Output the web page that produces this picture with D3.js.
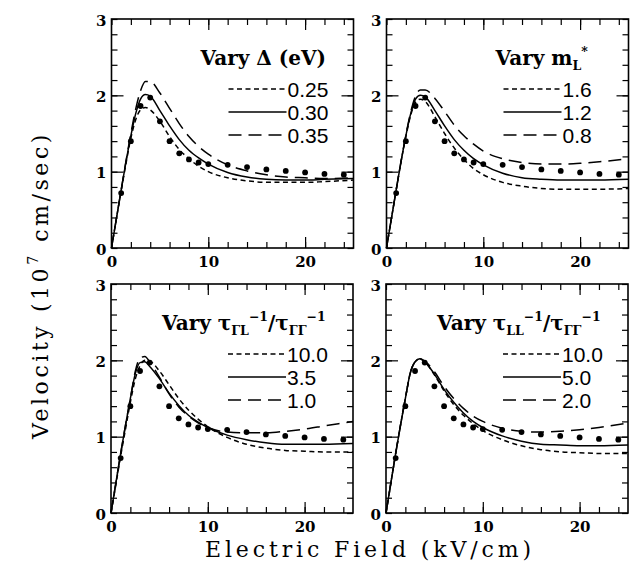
<!DOCTYPE html>
<html>
<head>
<meta charset="utf-8">
<script src="https://cdn.jsdelivr.net/npm/d3@7"></script>
<style>
body{margin:0;background:#fff;}
</style>
</head>
<body>
<script>
// pole elektryczne (kV/cm) dla krzywych teoretycznych
var pole = [0,0.5,1,1.5,2,2.5,3,3.5,4,5,6,7,8,9,10,12,14,16,18,20,22,25];

// punkty pomiarowe (te same na wszystkich panelach)
var pomiarE = [1,2,3,4,5,6,7,8,9,10,12,14,16,18,20,22,24];
var pomiarV = [0.72,1.40,1.86,1.97,1.66,1.40,1.24,1.16,1.12,1.10,1.09,1.06,1.03,1.01,0.99,0.97,0.96];

// panel 1 - Delta (eV)
var delta025 = [0,0.38,0.75,1.11,1.44,1.68,1.81,1.84,1.81,1.66,1.46,1.29,1.17,1.07,1.00,0.92,0.88,0.86,0.86,0.86,0.87,0.89];
var delta030 = [0,0.38,0.76,1.13,1.47,1.76,1.95,2.01,1.99,1.80,1.60,1.42,1.28,1.18,1.10,0.99,0.93,0.90,0.89,0.89,0.90,0.91];
var delta035 = [0,0.38,0.76,1.14,1.50,1.82,2.06,2.18,2.18,2.03,1.83,1.63,1.46,1.33,1.23,1.09,1.01,0.96,0.93,0.92,0.91,0.92];

// panel 2 - masa m_L*
var masa16 = [0,0.38,0.76,1.13,1.46,1.74,1.91,1.95,1.92,1.72,1.50,1.31,1.16,1.04,0.96,0.86,0.81,0.78,0.77,0.77,0.77,0.78];
var masa12 = [0,0.38,0.76,1.13,1.47,1.76,1.95,2.00,1.98,1.80,1.60,1.42,1.28,1.17,1.09,0.98,0.92,0.90,0.89,0.89,0.89,0.90];
var masa08 = [0,0.38,0.76,1.13,1.48,1.78,1.99,2.07,2.07,1.96,1.79,1.61,1.47,1.36,1.27,1.17,1.12,1.10,1.10,1.11,1.13,1.17];

// panel 3 - tau_GL / tau_GG
var tauGL100 = [0,0.37,0.75,1.10,1.45,1.75,1.93,2.00,1.99,1.86,1.68,1.50,1.35,1.23,1.13,0.99,0.90,0.85,0.82,0.81,0.80,0.80];
var tauGL35 = [0,0.39,0.78,1.15,1.50,1.82,1.97,1.98,1.92,1.76,1.57,1.41,1.28,1.19,1.12,1.02,0.96,0.92,0.90,0.90,0.90,0.91];
var tauGL10 = [0,0.39,0.78,1.15,1.50,1.85,2.03,2.05,1.98,1.78,1.56,1.39,1.27,1.18,1.12,1.06,1.05,1.05,1.07,1.10,1.14,1.20];

// panel 4 - tau_LL / tau_GG
var tauLL100 = [0,0.39,0.78,1.15,1.50,1.83,1.98,2.02,1.98,1.81,1.60,1.42,1.28,1.17,1.08,0.96,0.88,0.83,0.80,0.79,0.78,0.78];
var tauLL50 = [0,0.39,0.78,1.15,1.50,1.83,1.98,2.02,1.98,1.82,1.62,1.45,1.31,1.20,1.12,1.01,0.94,0.90,0.89,0.88,0.88,0.89];
var tauLL20 = [0,0.39,0.78,1.15,1.50,1.83,1.98,2.02,1.99,1.85,1.66,1.50,1.37,1.27,1.20,1.11,1.07,1.06,1.07,1.09,1.12,1.18];

var etykietyX = [0,10,20];
var etykietyY = [0,1,2,3];
var legendaDelta = ["0.25","0.30","0.35"];
var legendaMasa = ["1.6","1.2","0.8"];
var legendaTauGL = ["10.0","3.5","1.0"];
var legendaTauLL = ["10.0","5.0","2.0"];

// kreski: krotkie, ciagla, dlugie
var kreski = ["5,3.5", null, "13,7"];

var szer = 242, wys = 229;

var panele = [
	{x:111.5, y:19, krzywe:[delta025,delta030,delta035], legenda:legendaDelta, tytulX:89,
		tytul:[{t:"Vary \u0394 (eV)"}]},
	{x:386.5, y:19, krzywe:[masa16,masa12,masa08], legenda:legendaMasa, tytulX:109,
		tytul:[{t:"Vary m"},{t:"L",p:"sub"},{t:"*",p:"sup"}]},
	{x:111, y:284, krzywe:[tauGL100,tauGL35,tauGL10], legenda:legendaTauGL, tytulX:51,
		tytul:[{t:"Vary \u03c4"},{t:"\u0393L",p:"sub"},{t:"\u22121",p:"sup"},{t:"/\u03c4"},{t:"\u0393\u0393",p:"sub"},{t:"\u22121",p:"sup"}]},
	{x:386, y:284, krzywe:[tauLL100,tauLL50,tauLL20], legenda:legendaTauLL, tytulX:51,
		tytul:[{t:"Vary \u03c4"},{t:"LL",p:"sub"},{t:"\u22121",p:"sup"},{t:"/\u03c4"},{t:"\u0393\u0393",p:"sub"},{t:"\u22121",p:"sup"}]}
];

var svg = d3.select("body").append("svg")
	.attr("width",634)
	.attr("height",578);

var xSkala = d3.scaleLinear().domain([0,25]).range([0,szer]);
var ySkala = d3.scaleLinear().domain([0,3]).range([wys,0]);

var linia = d3.line()
	.x(function(d){return xSkala(d[0]);})
	.y(function(d){return ySkala(d[1]);})
	.curve(d3.curveMonotoneX);

function rysujOs(g, os, transform)
{
	var a = g.append("g").attr("transform", transform).call(os);
	a.select(".domain").remove();
	a.selectAll("line").attr("stroke","#000").attr("stroke-width",1.2);
	return a;
}

function napiszTytul(g, x, y, czesci)
{
	var t = g.append("text").attr("x",x).attr("y",y)
		.attr("font-family","'DejaVu Serif', serif")
		.attr("font-weight","bold")
		.attr("font-size",20);
	var przes = 0;
	czesci.forEach(function(c){
		var cel = c.p==="sub" ? 5 : (c.p==="sup" ? -9 : 0);
		t.append("tspan")
			.attr("dy", cel-przes)
			.attr("font-size", c.p ? 12.5 : 20)
			.text(c.t);
		przes = cel;
	});
}

panele.forEach(function(p)
{
	var g = svg.append("g").attr("transform","translate("+p.x+","+p.y+")");

	// podzialki do srodka na wszystkich bokach
	var xMale = d3.range(0,26,2);
	var yMale = d3.range(0,16).map(function(i){return i*0.2;});
	rysujOs(g, d3.axisBottom(xSkala).tickValues(xMale).tickSize(-6).tickFormat(""), "translate(0,"+wys+")");
	rysujOs(g, d3.axisBottom(xSkala).tickValues([10,20]).tickSize(-11).tickFormat(""), "translate(0,"+wys+")");
	rysujOs(g, d3.axisTop(xSkala).tickValues(xMale).tickSize(-6).tickFormat(""), "translate(0,0)");
	rysujOs(g, d3.axisTop(xSkala).tickValues([10,20]).tickSize(-11).tickFormat(""), "translate(0,0)");
	rysujOs(g, d3.axisLeft(ySkala).tickValues(yMale).tickSize(-6).tickFormat(""), "translate(0,0)");
	rysujOs(g, d3.axisLeft(ySkala).tickValues([1,2]).tickSize(-12).tickFormat(""), "translate(0,0)");
	rysujOs(g, d3.axisRight(ySkala).tickValues(yMale).tickSize(-6).tickFormat(""), "translate("+szer+",0)");
	rysujOs(g, d3.axisRight(ySkala).tickValues([1,2]).tickSize(-12).tickFormat(""), "translate("+szer+",0)");

	// etykiety osi
	var ex = rysujOs(g, d3.axisBottom(xSkala).tickValues(etykietyX).tickSize(0).tickPadding(8).tickFormat(d3.format("d")), "translate(0,"+wys+")");
	var ey = rysujOs(g, d3.axisLeft(ySkala).tickValues(etykietyY).tickSize(0).tickPadding(5).tickFormat(d3.format("d")), "translate(0,0)");
	[ex,ey].forEach(function(a){
		a.selectAll("text")
			.attr("font-family","'DejaVu Serif', serif")
			.attr("font-weight","bold")
			.attr("font-size",15)
			.attr("fill","#000");
	});
	ey.selectAll("text").attr("dy","0.42em");

	// ramka
	g.append("rect")
		.attr("width",szer)
		.attr("height",wys)
		.attr("fill","none")
		.attr("stroke","#000")
		.attr("stroke-width",1.6);

	// krzywe
	p.krzywe.forEach(function(k,i){
		g.append("path")
			.datum(pole.map(function(e,j){return [e,k[j]];}))
			.attr("d",linia)
			.attr("fill","none")
			.attr("stroke","#000")
			.attr("stroke-width",1.5)
			.attr("stroke-dasharray",kreski[i]);
	});

	// punkty pomiarowe
	g.selectAll("circle.pomiar")
		.data(pomiarE.map(function(e,j){return [e,pomiarV[j]];}))
		.enter().append("circle")
		.attr("class","pomiar")
		.attr("cx",function(d){return xSkala(d[0]);})
		.attr("cy",function(d){return ySkala(d[1]);})
		.attr("r",2.9)
		.attr("fill","#000");

	// legenda
	napiszTytul(g, p.tytulX, 46, p.tytul);
	p.legenda.forEach(function(tekst,i){
		var yy = 70+i*23;
		g.append("line")
			.attr("x1",117).attr("x2",175)
			.attr("y1",yy).attr("y2",yy)
			.attr("stroke","#000")
			.attr("stroke-width",1.5)
			.attr("stroke-dasharray",kreski[i]);
		g.append("text")
			.attr("x",176)
			.attr("y",yy+7.5)
			.attr("font-family","'Liberation Sans', sans-serif")
			.attr("font-size",21)
			.text(tekst);
	});
});

// tytuly osi
var tytulX = svg.append("text")
	.attr("x",368)
	.attr("y",557)
	.attr("text-anchor","middle")
	.attr("font-family","'DejaVu Serif', serif")
	.attr("font-size",22)
	.attr("textLength",326)
	.attr("lengthAdjust","spacing")
	.text("Electric Field (kV/cm)");

var tytulY = svg.append("text")
	.attr("transform","translate(48,285) rotate(-90)")
	.attr("text-anchor","middle")
	.attr("font-family","'DejaVu Serif', serif")
	.attr("font-size",22);
tytulY.append("tspan").text("Velocity (10");
tytulY.append("tspan").attr("dy",-10).attr("font-size",14).text("7");
tytulY.append("tspan").attr("dy",10).text(" cm/sec)");
var dlY = tytulY.node().getComputedTextLength();
tytulY.attr("letter-spacing", Math.max(0,(308-dlY)/21)+"px");
</script>
</body>
</html>
